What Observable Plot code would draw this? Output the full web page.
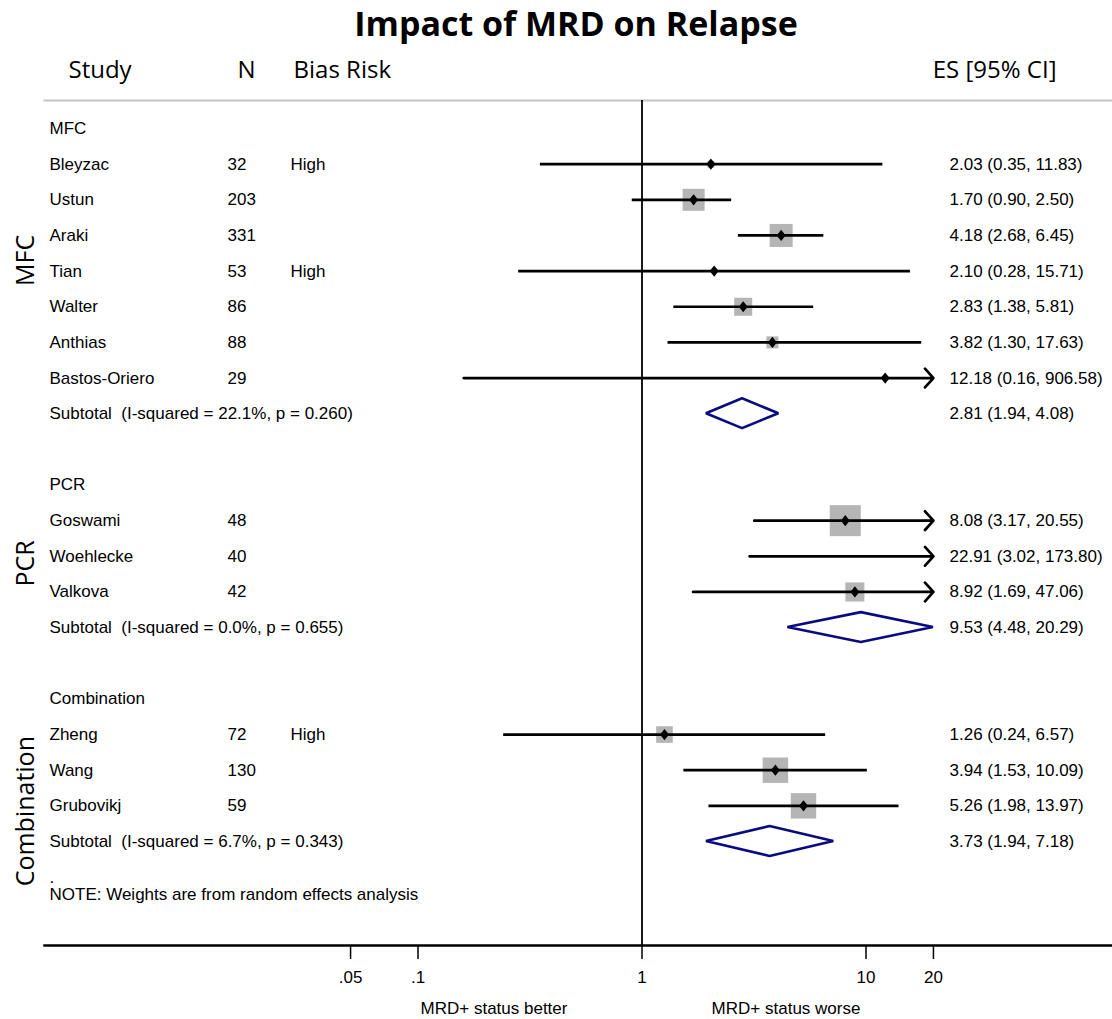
<!DOCTYPE html>
<html>
<head>
<meta charset="utf-8">
<script src="https://cdn.jsdelivr.net/npm/d3@7"></script>
<script src="https://cdn.jsdelivr.net/npm/@observablehq/plot@0.6"></script>
<style>
  body { margin: 0; background: #fff; }
  #title {
    height: 44px; line-height: 44px; padding-left: 40px;
    font: bold 34px "Open Sans", sans-serif; text-align: center; color: #000;
  }
  #chart svg { display: block; }
</style>
</head>
<body>
<div id="title">Impact of MRD on Relapse</div>
<div id="chart"></div>
<script>
// ---- Data -------------------------------------------------------------
const groups = ["MFC", "PCR", "Combination"];

const studies    = ["Bleyzac", "Ustun", "Araki", "Tian", "Walter", "Anthias", "Bastos-Oriero",
                    "Goswami", "Woehlecke", "Valkova",
                    "Zheng", "Wang", "Grubovikj"];
const studyGroup = ["MFC", "MFC", "MFC", "MFC", "MFC", "MFC", "MFC",
                    "PCR", "PCR", "PCR",
                    "Combination", "Combination", "Combination"];
const sampleN    = [32, 203, 331, 53, 86, 88, 29, 48, 40, 42, 72, 130, 59];
const biasRisk   = ["High", "", "", "High", "", "", "", "", "", "", "High", "", ""];
const effect     = [2.03, 1.70, 4.18, 2.10, 2.83, 3.82, 12.18, 8.08, 22.91, 8.92, 1.26, 3.94, 5.26];
const ciLow      = [0.35, 0.90, 2.68, 0.28, 1.38, 1.30, 0.16, 3.17, 3.02, 1.69, 0.24, 1.53, 1.98];
const ciHigh     = [11.83, 2.50, 6.45, 15.71, 5.81, 17.63, 906.58, 20.55, 173.80, 47.06, 6.57, 10.09, 13.97];
// random-effects weight (%) within each subgroup
const weight     = [3.1, 30.9, 33.8, 1.6, 20.7, 9.2, 0.6, 61.4, 15.5, 23.1, 17.6, 41.2, 41.2];

const subtotalES    = [2.81, 9.53, 3.73];
const subtotalLow   = [1.94, 4.48, 1.94];
const subtotalHigh  = [4.08, 20.29, 7.18];
const heterogeneity = ["I-squared = 22.1%, p = 0.260",
                       "I-squared = 0.0%, p = 0.655",
                       "I-squared = 6.7%, p = 0.343"];

const tickValues = [0.05, 0.1, 1, 10, 20];
const tickLabels = [".05", ".1", "1", "10", "20"];

const columnHeaders = ["Study", "N", "Bias Risk", "ES [95% CI]"];
const favourLabels  = ["MRD+ status better", "MRD+ status worse"];
const footnote      = "NOTE: Weights are from random effects analysis";

// ---- Row layout -------------------------------------------------------
const fmt = v => v.toFixed(2);
const esText = (e, lo, hi) => `${fmt(e)} (${fmt(lo)}, ${fmt(hi)})`;

const rows = [];
let r = 0;
groups.forEach((g, gi) => {
  rows.push({row: r++, kind: "header", label: g});
  studies.forEach((s, i) => {
    if (studyGroup[i] !== g) return;
    rows.push({row: r++, kind: "study", label: s, n: String(sampleN[i]), bias: biasRisk[i],
               es: effect[i], lo: ciLow[i], hi: ciHigh[i], w: weight[i],
               ci: esText(effect[i], ciLow[i], ciHigh[i])});
  });
  rows.push({row: r++, kind: "subtotal", label: `Subtotal\u00a0 (${heterogeneity[gi]})`,
             es: subtotalES[gi], lo: subtotalLow[gi], hi: subtotalHigh[gi],
             ci: esText(subtotalES[gi], subtotalLow[gi], subtotalHigh[gi])});
  r++; // spacer line between subgroups
});
const noteRow = r - 1;

const xMax = tickValues[tickValues.length - 1];
const studyRows = rows.filter(d => d.kind === "study");
const subtotalRows = rows.filter(d => d.kind === "subtotal");
const shown = studyRows.map(d => ({...d, hiShown: Math.min(d.hi, xMax)}));
const ticks = tickValues.map((v, i) => ({value: v, label: tickLabels[i]}));

// pooled-estimate diamonds as closed areas (half height in row units)
const dh = 0.42;
const diamondPts = subtotalRows.flatMap(d => [
  {g: d.label, x: d.lo, y1: d.row, y2: d.row},
  {g: d.label, x: d.es, y1: d.row - dh, y2: d.row + dh},
  {g: d.label, x: Math.min(d.hi, xMax), y1: d.row, y2: d.row}
]);

// weight box: a square whose side follows the r scale
const squareSymbol = {
  draw(context, size) {
    const h = Math.sqrt(size / Math.PI);
    context.rect(-h, -h, 2 * h, 2 * h);
  }
};
// point estimate marker: slightly tall diamond
const pointSymbol = {
  draw(context, size) {
    const h = Math.sqrt(size / Math.PI), w = h * 0.8;
    context.moveTo(0, -h); context.lineTo(w, 0); context.lineTo(0, h); context.lineTo(-w, 0); context.closePath();
  }
};

const sideLabelRows = [3.7, 12.2, 19.15];
const headFont = "Open Sans";
const headerAt = (text, dx, anchor, frame) =>
  Plot.text([text], {frameAnchor: frame, dx, dy: -30, text: d => d, textAnchor: anchor,
                     lineAnchor: "middle", fontFamily: headFont, fontSize: 24, fill: "#000"});

const chart = Plot.plot({
  width: 1112,
  height: 975,
  marginLeft: 44,
  marginRight: 0,
  marginTop: 56,
  marginBottom: 74,
  style: {fontFamily: "Liberation Sans, Arial, sans-serif", fontSize: "17px", color: "#000", background: "#fff", overflow: "visible"},
  x: {type: "log", domain: [0.01, 100], range: [193.5, 1089.5]},
  y: {type: "linear", domain: [0, 20], range: [84, 797], axis: null},
  r: {type: "sqrt", domain: [0, 100], range: [0, 19.8]},
  marks: [
    Plot.frame({anchor: "top", stroke: "#c3c3c3", strokeWidth: 2}),
    Plot.ruleX([1], {stroke: "#000", strokeWidth: 1.8}),
    Plot.frame({anchor: "bottom", stroke: "#000", strokeWidth: 2.5}),
    // tick marks from the axis, labels drawn as text at the same values
    Plot.axisX({anchor: "bottom", ticks: tickValues, tickFormat: () => "",
                tickSize: 14, tickPadding: 12, strokeWidth: 1.5, label: null}),
    Plot.text(ticks, {x: "value", text: "label", frameAnchor: "bottom", lineAnchor: "middle",
                      dy: 32, fontSize: 17}),

    // weight boxes
    Plot.dot(shown.filter(d => d.es <= xMax), {x: "es", y: "row", r: "w", symbol: squareSymbol,
                                              fill: "#b5b5b5", stroke: null}),
    // confidence intervals; those running past the axis end in an arrow
    Plot.link(shown.filter(d => d.hi <= xMax), {x1: "lo", x2: "hiShown", y1: "row", y2: "row",
                                                 stroke: "#000", strokeWidth: 2.7}),
    Plot.arrow(shown.filter(d => d.hi > xMax), {x1: "lo", x2: "hiShown", y1: "row", y2: "row",
                                                 stroke: "#000", strokeWidth: 2.7,
                                                 headLength: 7, headAngle: 96}),
    // point estimates
    Plot.dot(shown.filter(d => d.es <= xMax), {x: "es", y: "row", r: 5.6, symbol: pointSymbol,
                                              fill: "#000", stroke: null}),
    // subgroup pooled estimates
    Plot.area(diamondPts, {x1: "x", y1: "y1", y2: "y2", z: "g", fill: "#fff",
                           stroke: "#0b0b80", strokeWidth: 2.6, strokeLinejoin: "miter"}),

    // table columns
    Plot.text(rows, {y: "row", text: "label", frameAnchor: "left", dx: 5, textAnchor: "start"}),
    Plot.text(studyRows, {y: "row", text: "n", frameAnchor: "left", dx: 183, textAnchor: "start"}),
    Plot.text(studyRows, {y: "row", text: "bias", frameAnchor: "left", dx: 246, textAnchor: "start"}),
    Plot.text(rows.filter(d => d.ci), {y: "row", text: "ci", frameAnchor: "left", dx: 905, textAnchor: "start"}),
    Plot.text(["."], {y: [noteRow], text: d => d, frameAnchor: "left", dx: 5, textAnchor: "start"}),
    Plot.text([footnote], {y: [noteRow + 0.5], text: d => d, frameAnchor: "left", dx: 5, textAnchor: "start"}),

    // column headers
    headerAt(columnHeaders[0], 24, "start", "top-left"),
    headerAt(columnHeaders[1], 193, "start", "top-left"),
    headerAt(columnHeaders[2], 249, "start", "top-left"),
    headerAt(columnHeaders[3], -56, "end", "top-right"),

    // subgroup side labels
    Plot.text(groups, {y: sideLabelRows, text: d => d, frameAnchor: "left", dx: -19, rotate: -90,
                       textAnchor: "middle", fontFamily: headFont, fontSize: 25, fill: "#000"}),

    // direction labels under the axis
    Plot.text([favourLabels[0]], {x: () => 1, text: d => d, frameAnchor: "bottom", lineAnchor: "middle",
                                  dx: -148, dy: 63}),
    Plot.text([favourLabels[1]], {x: () => 1, text: d => d, frameAnchor: "bottom", lineAnchor: "middle",
                                  dx: 144, dy: 63})
  ]
});

document.getElementById("chart").append(chart);
</script>
</body>
</html>
